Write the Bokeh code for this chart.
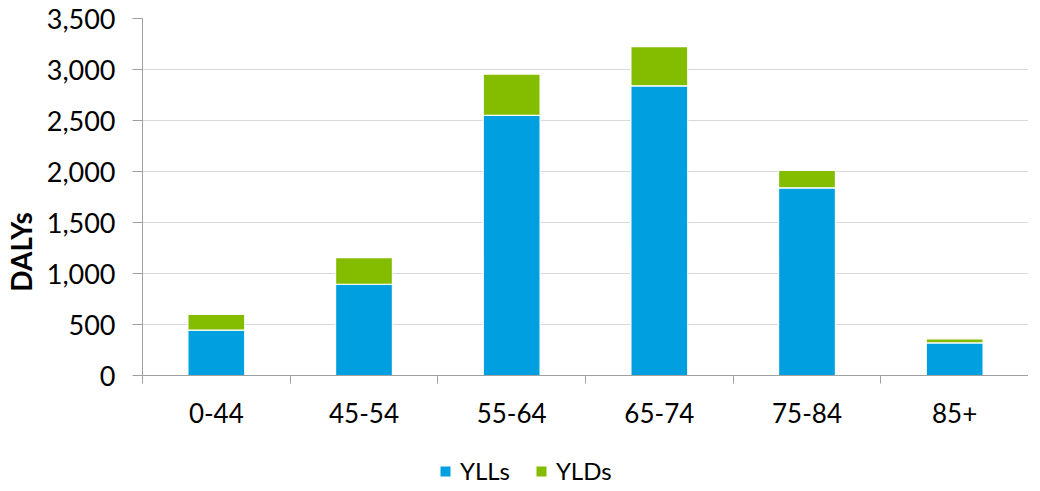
from bokeh.plotting import figure
from bokeh.models import ColumnDataSource, FixedTicker, NumeralTickFormatter, Legend, LegendItem, Range1d
from bokeh.embed import file_html
from bokeh.resources import INLINE

ages = ["0-44", "45-54", "55-64", "65-74", "75-84", "85+"]
ylls = [445, 895, 2550, 2840, 1840, 320]
ylds = [155, 260, 405, 385, 170, 40]
y_ticks = [0, 500, 1000, 1500, 2000, 2500, 3000, 3500]

BLUE = "#00A0E0"
GREEN = "#84BD00"
FONT = "Lato"
GRAY = "#a0a0a0"

xpos = [i + 0.5 for i in range(len(ages))]
source = ColumnDataSource(dict(x=xpos, age=ages, yll=ylls, yld=ylds))

# frame extends below zero so the legend sits inside the frame; the x axis is fixed at y=0
p = figure(width=1028, height=485, output_backend="svg", toolbar_location=None,
           x_range=Range1d(0, len(ages)), y_range=Range1d(-1078, 3500),
           min_border_left=133, min_border_right=0, min_border_top=18, min_border_bottom=0)
p.outline_line_color = None
p.background_fill_color = "white"

r = p.vbar_stack(["yll", "yld"], x="x", width=0.385, color=[BLUE, GREEN],
                 line_color="white", line_width=1.2, source=source)

# x axis
xa = p.xaxis[0]
xa.fixed_location = 0
xa.ticker = FixedTicker(ticks=xpos, minor_ticks=list(range(len(ages) + 1)))
xa.major_label_overrides = {x: a for x, a in zip(xpos, ages)}
xa.major_tick_line_color = None
xa.major_tick_out = 0
xa.major_tick_in = 0
xa.minor_tick_out = 8
xa.minor_tick_in = 0
xa.minor_tick_line_color = GRAY
xa.axis_line_color = GRAY
xa.major_label_text_font = FONT
xa.major_label_text_font_size = "26px"
xa.major_label_text_color = "black"
xa.major_label_standoff = 19

# y axis
ya = p.yaxis[0]
ya.bounds = (-80, 3500)
ya.ticker = FixedTicker(ticks=y_ticks)
ya.formatter = NumeralTickFormatter(format="0,0")
ya.major_tick_out = 10
ya.major_tick_in = 0
ya.minor_tick_line_color = None
ya.major_tick_line_color = GRAY
ya.axis_line_color = GRAY
ya.major_label_text_font = FONT
ya.major_label_text_font_size = "27px"
ya.major_label_text_color = "black"
ya.major_label_standoff = 17
ya.axis_label = "DALYs"
ya.axis_label_text_font = FONT
ya.axis_label_text_font_size = "28px"
ya.axis_label_text_font_style = "bold"
ya.axis_label_text_color = "black"
ya.axis_label_standoff = 6

p.xgrid.grid_line_color = None
p.ygrid.ticker = FixedTicker(ticks=y_ticks)
p.ygrid.grid_line_color = "#d9d9d9"
p.ygrid.grid_line_width = 1.2

legend = Legend(items=[LegendItem(label="YLLs", renderers=[r[0]]),
                       LegendItem(label="YLDs", renderers=[r[1]])],
                orientation="horizontal", location=(296, 0),
                padding=0, margin=0, spacing=24, label_standoff=8,
                glyph_width=14, glyph_height=14,
                label_text_font=FONT, label_text_font_size="24px",
                label_text_color="black",
                border_line_color=None, background_fill_alpha=0)
p.add_layout(legend, "center")

open("out.html", "w").write(file_html(p, INLINE))
